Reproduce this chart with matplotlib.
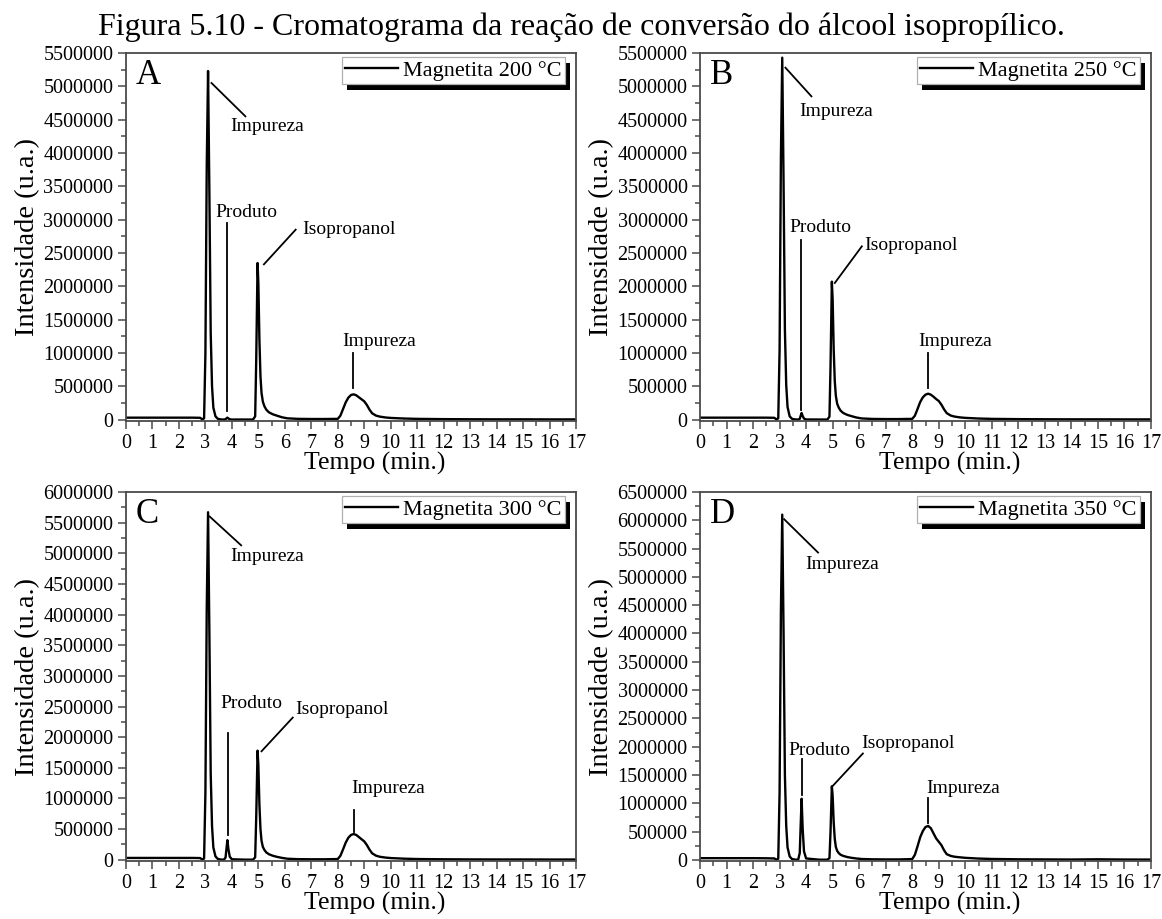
import numpy as np
import matplotlib
matplotlib.use('Agg')
import matplotlib.pyplot as plt
from matplotlib.ticker import MultipleLocator, FuncFormatter
from matplotlib.patches import Rectangle

plt.rcParams['font.family'] = ['Liberation Serif', 'DejaVu Serif']

# ---------------- data (retention time in min, intensity in millions u.a.) ----------------
time_min = [0.0, 1.0, 2.0, 2.5, 2.8, 2.88, 2.95, 3.0, 3.05, 3.1,
            3.15, 3.2, 3.25, 3.3, 3.38, 3.47, 3.6, 3.7, 3.76, 3.8,
            3.83, 3.87, 3.92, 4.0, 4.5, 4.8, 4.88, 4.92, 4.97, 5.0,
            5.04, 5.08, 5.12, 5.17, 5.23, 5.3, 5.4, 5.55, 5.7, 5.9,
            6.1, 6.5, 7.0, 7.5, 8.0, 8.1, 8.2, 8.3, 8.4, 8.5,
            8.6, 8.7, 8.8, 8.9, 9.0, 9.1, 9.2, 9.3, 9.45, 9.6,
            9.8, 10.0, 10.5, 11.0, 12.0, 13.0, 14.0, 15.0, 16.0, 17.0]

int_A_mi = [0.03, 0.03, 0.03, 0.03, 0.028, 0.005, 0.02, 1.0, 3.8, 5.23,
            3.4, 1.3, 0.5, 0.18, 0.05, 0.012, 0.003, 0.002, 0.006, 0.022,
            0.03, 0.018, 0.006, 0.002, 0.002, 0.002, 0.05, 0.9, 2.35, 2.05,
            1.2, 0.65, 0.4, 0.27, 0.2, 0.15, 0.11, 0.08, 0.06, 0.035,
            0.02, 0.012, 0.01, 0.01, 0.012, 0.06, 0.16, 0.26, 0.33, 0.37,
            0.38, 0.365, 0.335, 0.305, 0.275, 0.22, 0.15, 0.095, 0.06, 0.045,
            0.033, 0.026, 0.017, 0.012, 0.008, 0.006, 0.005, 0.005, 0.004, 0.004]

int_B_mi = [0.03, 0.03, 0.03, 0.03, 0.028, 0.005, 0.02, 1.05, 3.95, 5.43,
            3.55, 1.35, 0.52, 0.19, 0.05, 0.012, 0.003, 0.002, 0.012, 0.065,
            0.10, 0.055, 0.016, 0.003, 0.002, 0.002, 0.045, 0.8, 2.07, 1.8,
            1.05, 0.58, 0.36, 0.24, 0.18, 0.135, 0.1, 0.072, 0.054, 0.032,
            0.018, 0.011, 0.009, 0.009, 0.012, 0.06, 0.16, 0.265, 0.335, 0.375,
            0.39, 0.375, 0.345, 0.31, 0.28, 0.225, 0.155, 0.098, 0.062, 0.046,
            0.034, 0.027, 0.017, 0.012, 0.008, 0.006, 0.005, 0.005, 0.004, 0.004]

int_C_mi = [0.03, 0.03, 0.03, 0.03, 0.028, 0.005, 0.02, 1.1, 4.1, 5.67,
            3.7, 1.4, 0.55, 0.2, 0.055, 0.013, 0.003, 0.002, 0.035, 0.2,
            0.32, 0.17, 0.05, 0.008, 0.002, 0.002, 0.04, 0.7, 1.78, 1.55,
            0.9, 0.5, 0.31, 0.21, 0.16, 0.12, 0.09, 0.065, 0.048, 0.03,
            0.017, 0.01, 0.008, 0.008, 0.012, 0.065, 0.17, 0.28, 0.36, 0.405,
            0.42, 0.405, 0.37, 0.335, 0.3, 0.24, 0.165, 0.105, 0.066, 0.048,
            0.036, 0.028, 0.018, 0.012, 0.008, 0.006, 0.005, 0.005, 0.004, 0.004]

int_D_mi = [0.03, 0.03, 0.03, 0.028, 0.025, 0.005, 0.02, 1.2, 4.4, 6.10,
            4.0, 1.5, 0.6, 0.22, 0.06, 0.014, 0.004, 0.003, 0.12, 0.68,
            1.08, 0.55, 0.15, 0.025, 0.003, 0.003, 0.03, 0.5, 1.30, 1.13,
            0.66, 0.37, 0.23, 0.16, 0.12, 0.09, 0.07, 0.05, 0.037, 0.024,
            0.015, 0.01, 0.008, 0.008, 0.014, 0.09, 0.24, 0.4, 0.51, 0.58,
            0.60, 0.56, 0.47, 0.38, 0.32, 0.26, 0.17, 0.1, 0.07, 0.055,
            0.045, 0.036, 0.023, 0.016, 0.01, 0.008, 0.006, 0.01, 0.006, 0.005]

panel_letters = ['A', 'B', 'C', 'D']
legend_labels = ['Magnetita 200 °C', 'Magnetita 250 °C', 'Magnetita 300 °C', 'Magnetita 350 °C']
y_top = [5500000, 5500000, 6000000, 6500000]

# annotation pointer lines (x0, y0, x1, y1) in (min, millions) and labels (x, y, text)
ann_lines = [
    [(3.23, 5.05, 4.51, 4.55), (3.80, 2.95, 3.80, 0.125), (5.21, 2.33, 6.41, 2.85), (8.59, 1.00, 8.59, 0.475)],
    [(3.22, 5.28, 4.20, 4.85), (3.80, 2.70, 3.80, 0.15), (5.08, 2.05, 6.10, 2.60), (8.60, 1.00, 8.60, 0.48)],
    [(3.16, 5.60, 4.35, 5.13), (3.84, 2.07, 3.84, 0.40), (5.12, 1.77, 6.30, 2.32), (8.62, 0.81, 8.62, 0.46)],
    [(3.17, 6.02, 4.45, 5.43), (3.83, 1.79, 3.83, 1.14), (5.01, 1.31, 6.14, 1.88), (8.60, 1.10, 8.60, 0.66)],
]
ann_texts = [
    [(5.34, 4.40, 'Impureza'), (4.55, 3.11, 'Produto'), (8.42, 2.85, 'Isopropanol'), (9.56, 1.175, 'Impureza')],
    [(5.15, 4.62, 'Impureza'), (4.55, 2.88, 'Produto'), (7.95, 2.62, 'Isopropanol'), (9.62, 1.17, 'Impureza')],
    [(5.33, 4.94, 'Impureza'), (4.75, 2.55, 'Produto'), (8.15, 2.45, 'Isopropanol'), (9.90, 1.17, 'Impureza')],
    [(5.36, 5.22, 'Impureza'), (4.50, 1.94, 'Produto'), (7.85, 2.06, 'Isopropanol'), (9.93, 1.26, 'Impureza')],
]

title = 'Figura 5.10 - Cromatograma da reação de conversão do álcool isopropílico.'
x_label = 'Tempo (min.)'
y_label = 'Intensidade (u.a.)'

series = [int_A_mi, int_B_mi, int_C_mi, int_D_mi]

# ---------------- figure ----------------
W, H = 1162, 919
fig = plt.figure(figsize=(W / 100, H / 100), dpi=100)
fig.patch.set_facecolor('white')

rects = [
    (126, 53, 450, 368),
    (700, 53, 451, 368),
    (126, 492, 450, 369),
    (700, 492, 451, 369),
]

spine_col = '#4a4a4a'
axes = []
for i, (l, t, w, h) in enumerate(rects):
    ax = fig.add_axes([l / W, 1 - (t + h) / H, w / W, h / H])
    axes.append(ax)
    t_arr = np.array(time_min)
    y_arr = np.array(series[i]) * 1e6
    line, = ax.plot(t_arr, y_arr, color='black', lw=1.7, solid_joinstyle='round')

    ax.set_xlim(0, 17)
    ax.set_ylim(-20000, y_top[i])
    ax.xaxis.set_major_locator(MultipleLocator(1))
    ax.xaxis.set_minor_locator(MultipleLocator(0.5))
    ax.yaxis.set_major_locator(MultipleLocator(500000))
    ax.yaxis.set_minor_locator(MultipleLocator(250000))
    ax.yaxis.set_major_formatter(FuncFormatter(lambda v, p: f'{int(round(v))}'))
    ax.tick_params(which='both', direction='out', top=False, right=False,
                   color=spine_col, labelsize=14.5, width=1.1)
    ax.tick_params(which='major', length=6, pad=3)
    ax.tick_params(which='minor', length=3.5)
    for s in ax.spines.values():
        s.set_color(spine_col)
        s.set_linewidth(1.3)

    # annotations
    for (x0, y0, x1, y1) in ann_lines[i]:
        ax.plot([x0, x1], [y0 * 1e6, y1 * 1e6], color='black', lw=1.3)
    for (tx, ty, s) in ann_texts[i]:
        ax.text(tx, ty * 1e6, s, ha='center', va='center', fontsize=14)

    # panel letter
    ax.text(0.022, 0.985, panel_letters[i], transform=ax.transAxes,
            ha='left', va='top', fontsize=25)

    # axis labels
    ax.set_xlabel(x_label, fontsize=18.5, labelpad=1)
    ax.xaxis.set_label_coords(0.553, -0.085)
    ax.set_ylabel(y_label, fontsize=20.5, va='center')
    ax.yaxis.set_label_coords(-0.218, 0.5)

    leg = ax.legend([line], [legend_labels[i]], loc='upper right',
                    bbox_to_anchor=(0.975, 0.99), fontsize=16,
                    handlelength=2.4, handletextpad=0.2, borderpad=0.15,
                    borderaxespad=0, frameon=True, fancybox=False,
                    framealpha=1, edgecolor='#b0b0b0')
    leg.get_frame().set_linewidth(0.9)

fig.text(0.5, 1 - 35 / H, title, ha='center', va='baseline', fontsize=23)

# legend shadows (solid black, offset down-right)
fig.canvas.draw()
for ax in axes:
    leg = ax.get_legend()
    bb = leg.get_window_extent()
    inv = ax.transAxes.inverted()
    (x0, y0) = inv.transform((bb.x0 + 5, bb.y0 - 6))
    (x1, y1) = inv.transform((bb.x1 + 5, bb.y1 - 6))
    ax.add_patch(Rectangle((x0, y0), x1 - x0, y1 - y0, transform=ax.transAxes,
                           facecolor='black', edgecolor='none', zorder=4.9,
                           clip_on=False))

fig.savefig('out.png', dpi=100, facecolor='white')
